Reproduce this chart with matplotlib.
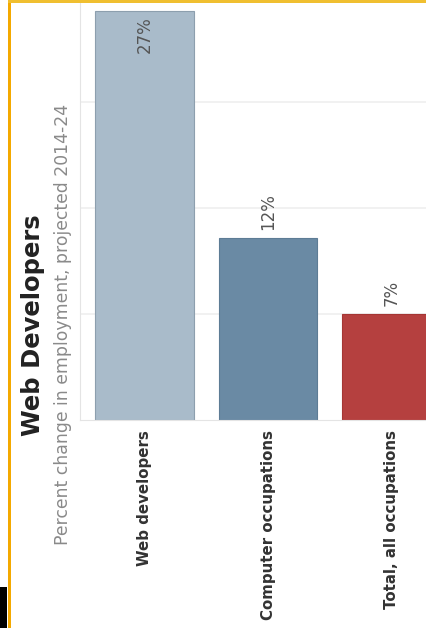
import matplotlib.pyplot as plt
from matplotlib.patches import Rectangle

# datos del grafico
categorias = ["Web developers", "Computer occupations", "Total, all occupations"]
valores = [27, 12, 7]
colores = ["#a9bbca", "#6a8aa4", "#b5403f"]
bordes = ["#8d9fae", "#5d7c95", "#a53634"]
lineas_guia = [7, 14, 21]

titulo = "Web Developers"
subtitulo = "Percent change in employment, projected 2014-24"

fig = plt.figure(figsize=(4.26, 6.28), dpi=100)
fig.patch.set_facecolor("white")

ax = fig.add_axes([80 / 426, 208 / 628, 346 / 426, 417 / 628])
posiciones = list(range(len(categorias)))
ax.bar(posiciones, valores, width=0.8, color=colores, edgecolor=bordes, linewidth=0.8, zorder=2)

#lineas guia muy suaves
for g in lineas_guia:
    ax.axhline(g, color="#efefef", linewidth=1.2, zorder=1)

ax.set_xlim(-0.522, 2.279)
ax.set_ylim(0, 27.52)

#etiquetas de valor
for i, v in enumerate(valores):
    if v == max(valores):
        ax.annotate(f"{v}%", (i, v), xytext=(0, -4), textcoords="offset points",
                    rotation=90, ha="center", va="top", fontsize=12, color="#555555")
    else:
        ax.annotate(f"{v}%", (i, v), xytext=(0, 6), textcoords="offset points",
                    rotation=90, ha="center", va="bottom", fontsize=12, color="#555555")

ax.set_xticks(posiciones)
ax.set_xticklabels(categorias, rotation=90, fontsize=10.8, fontweight="bold", color="#333333")
ax.tick_params(axis="x", length=0, pad=7)
ax.set_yticks([])

for lado in ["top", "right"]:
    ax.spines[lado].set_visible(False)
ax.spines["left"].set_color("#e4e4e4")
ax.spines["bottom"].set_color("#e4e4e4")

#titulo y subtitulo girados
fig.text(33 / 426, 1 - 325 / 628, titulo, rotation=90, ha="center", va="center",
         fontsize=17.5, fontweight="bold", color="#222222")
fig.text(63 / 426, 1 - 324 / 628, subtitulo, rotation=90, ha="center", va="center",
         fontsize=12.4, color="#8a8a8a")

#borde naranja y bloque negro
fig.add_artist(Rectangle((7.5 / 426, 0), 3.5 / 426, 1, transform=fig.transFigure,
                         facecolor="#f4a900", edgecolor="none"))
fig.add_artist(Rectangle((7.5 / 426, 1 - 2.5 / 628), 1, 2.5 / 628, transform=fig.transFigure,
                         facecolor="#f0bf30", edgecolor="none"))
fig.add_artist(Rectangle((0, 0), 7 / 426, 41 / 628, transform=fig.transFigure,
                         facecolor="black", edgecolor="none"))

fig.savefig("out.png", dpi=100)
